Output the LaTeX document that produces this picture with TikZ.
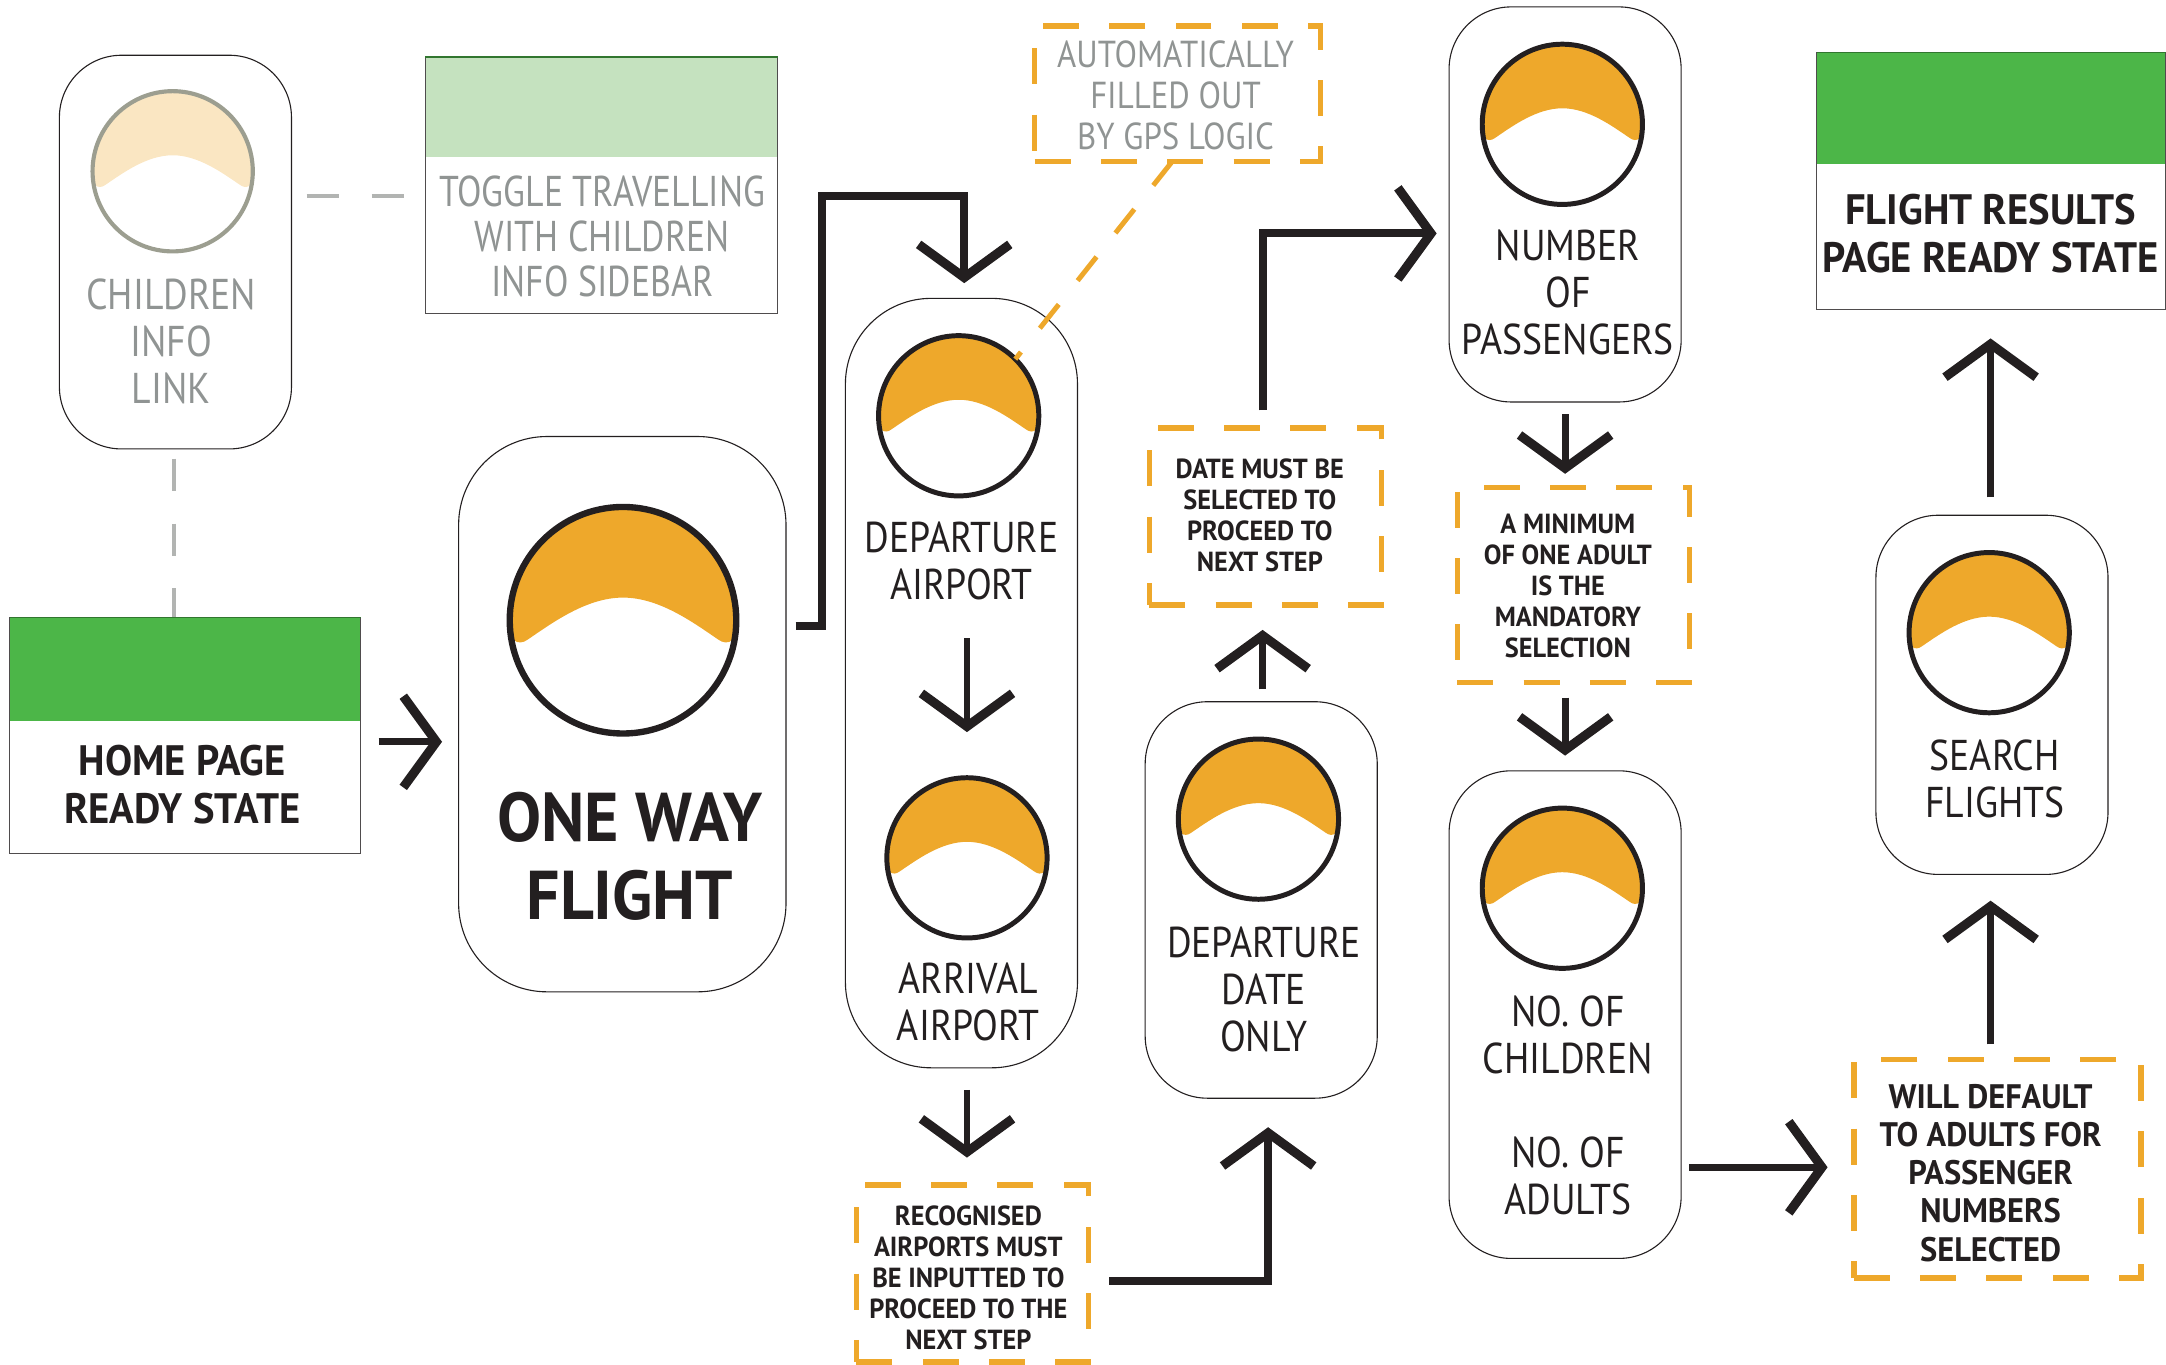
\documentclass[tikz,border=0pt]{standalone}
\usepackage{fontspec}
\setmainfont[FakeStretch=0.875,BoldFeatures={FakeStretch=0.955}]{PT Sans}
\newfontfamily\tighter[FakeStretch=0.83]{PT Sans}
\usetikzlibrary{arrows.meta,fit}
\definecolor{ink}{HTML}{231F20}
\definecolor{greytext}{HTML}{909493}
\definecolor{orangec}{HTML}{EEA82B}
\definecolor{palec}{HTML}{FAE6C2}
\definecolor{greenc}{HTML}{4CB648}
\definecolor{palegreen}{HTML}{C5E2BF}
\definecolor{dashgrey}{HTML}{B2B4B2}
\definecolor{ringgrey}{HTML}{9C9E90}
\tikzset{
  pill/.style={draw=ink,line width=0.4pt,inner sep=0pt,outer sep=0pt,rounded corners=#1},
  pill/.default=22.5pt,
  panel/.style={draw=ink!80,line width=0.4pt,inner sep=0pt,outer sep=0pt},
  note/.style={draw=orangec,line width=2pt,dash pattern=on 13pt off 11pt,inner sep=0pt,outer sep=0pt},
  reg/.style={inner sep=0pt,align=center,text=ink,font=\fontsize{15.6}{17}\selectfont},
  regg/.style={reg,text=greytext},
  boldbig/.style={inner sep=0pt,align=center,text=ink,font=\bfseries\fontsize{15.4}{17.4}\selectfont},
  huge1/.style={inner sep=0pt,align=center,text=ink,font=\bfseries\fontsize{25}{28}\selectfont},
  noteS/.style={inner sep=0pt,align=center,text=ink,font=\bfseries\fontsize{10}{11.2}\selectfont},
  noteM/.style={inner sep=0pt,align=center,text=ink,font=\bfseries\fontsize{12.3}{13.85}\selectfont},
  gpstext/.style={inner sep=0pt,align=center,text=greytext,font=\fontsize{13.6}{14.7}\selectfont},
  conn/.style={draw=ink,line width=2.5pt,-{Straight Barb[length=12pt,width=33pt,line width=3.3pt]}},
  elbow/.style={conn,line width=2.9pt,line join=miter},
  greydash/.style={draw=dashgrey,line width=1.5pt,dash pattern=on 11.75pt off 11.75pt},
  gpsdash/.style={draw=orangec,line width=1.8pt,dash pattern=on 11pt off 11pt},
  ring/.style={circle,draw=#1,line width=1.8pt,inner sep=0pt,outer sep=0pt},
  ring/.default=ink,
  topedge/.style={draw=greenc!65!black,line width=0.7pt}
}
% name, cx, cy, radius, fill, ring colour, ring width
\newcommand{\sunicon}[7]{%
  \begin{scope}[shift={(#2,#3)},x=#4*0.5pt,y=-#4*0.5pt]
    \begin{scope}
      \clip (0,0) circle[radius=1];
      \fill[#5] (-1.1,0.17) -- (-1.1,-1.1) -- (1.1,-1.1) -- (1.1,0.17) -- (0.97,0.17)
        .. controls (0.93,0.21) and (0.88,0.2) .. (0.84,0.17)
        .. controls (0.62,0.02) and (0.32,-0.2) .. (0,-0.2)
        .. controls (-0.32,-0.2) and (-0.62,0.02) .. (-0.84,0.17)
        .. controls (-0.88,0.2) and (-0.93,0.21) .. (-0.97,0.17) -- cycle;
    \end{scope}
  \end{scope}
  \node[ring=#6,line width=#7,minimum size=#4*1pt] (#1) at (#2,#3) {};
}
\begin{document}
\begin{tikzpicture}[x=0.5pt,y=-0.5pt]
\useasboundingbox (0,0) rectangle (1568,988.1);

% panels
\fill[palegreen] (308,41) rectangle (563,114);
\fill[greenc] (7,447) rectangle (261,522);
\fill[greenc] (1315,38) rectangle (1568,119);
\node[panel,fit={(308,41)(563,227)}] (toggle) {};
\node[panel,fit={(7,447)(261,618)}] (home) {};
\node[panel,fit={(1315,38)(1568,224)}] (results) {};
\draw[topedge] (toggle.north west) -- (toggle.north east);
\draw[topedge] (home.north west) -- (home.north east);
\draw[topedge] (results.north west) -- (results.north east);

% pills
\node[pill,fit={(43,40)(211,325)}] (child) {};
\node[pill=32pt,fit={(332,316)(569,718)}] (oneway) {};
\node[pill=31pt,fit={(612,216)(780,773)}] (airports) {};
\node[pill,fit={(829,508)(997,795)}] (date) {};
\node[pill,fit={(1049,5)(1217,291)}] (number) {};
\node[pill,fit={(1049,558)(1217,911)}] (kids) {};
\node[pill,fit={(1358,373)(1526,633)}] (search) {};

% suns
\sunicon{schild}{125}{124}{58}{palec}{ringgrey}{1.5pt}
\sunicon{soneway}{451}{449}{82}{orangec}{ink}{2.3pt}
\sunicon{sdep}{694}{301}{58}{orangec}{ink}{1.8pt}
\sunicon{sarr}{700}{621}{58}{orangec}{ink}{1.8pt}
\sunicon{sdate}{911}{593}{58}{orangec}{ink}{1.8pt}
\sunicon{snum}{1131}{90}{58}{orangec}{ink}{1.8pt}
\sunicon{skids}{1131}{643}{58}{orangec}{ink}{1.8pt}
\sunicon{ssearch}{1440}{458}{58}{orangec}{ink}{1.8pt}

% dashed notes
\node[note,fit={(749,19)(956,117)}] (gps) {};
\node[note,fit={(832,310)(1000,438)}] (datenote) {};
\node[note,fit={(1055,353)(1223,494)}] (minnote) {};
\node[note,fit={(620,858)(788,986)}] (airnote) {};
\node[note,fit={(1342,767)(1550,925)}] (willnote) {};

% labels
\node[regg] (lchild) at (124,247) {CHILDREN\\INFO\\LINK};
\node[regg,font=\tighter\fontsize{15.6}{16.3}\selectfont] (ltoggle) at (436,171) {TOGGLE TRAVELLING\\WITH CHILDREN\\INFO SIDEBAR};
\node[boldbig] (lhome) at (132,568) {HOME PAGE\\READY STATE};
\node[boldbig] (lresults) at (1441,169) {FLIGHT RESULTS\\PAGE READY STATE};
\node[huge1] (loneway) at (456,620) {ONE WAY\\FLIGHT};
\node[reg] (ldep) at (696,406) {DEPARTURE\\AIRPORT};
\node[reg] (larr) at (701,725) {ARRIVAL\\AIRPORT};
\node[reg] (ldate) at (915,716) {DEPARTURE\\DATE\\ONLY};
\node[reg] (lnum) at (1135,212) {NUMBER\\OF\\PASSENGERS};
\node[reg] (lkids) at (1135,800) {NO. OF\\CHILDREN\\[17pt]NO. OF\\ADULTS};
\node[reg] (lsearch) at (1444,564) {SEARCH\\FLIGHTS};
\node[gpstext] (lgps) at (851,69) {AUTOMATICALLY\\FILLED OUT\\BY GPS LOGIC};
\node[noteS] (ldn) at (912,373) {DATE MUST BE\\SELECTED TO\\PROCEED TO\\NEXT STEP};
\node[noteS] (lmn) at (1135,424) {A MINIMUM\\OF ONE ADULT\\IS THE\\MANDATORY\\SELECTION};
\node[noteS] (lan) at (701,925) {RECOGNISED\\AIRPORTS MUST\\BE INPUTTED TO\\PROCEED TO THE\\NEXT STEP};
\node[noteM] (lwn) at (1441,849) {WILL DEFAULT\\TO ADULTS FOR\\PASSENGER\\NUMBERS\\SELECTED};

% grey dashed links
\draw[greydash] ([shift={(11,-40.5)}]child.east) -- ([shift={(-15,8)}]toggle.west);
\draw[greydash] ([shift={(-1,7)}]child.south) -- ([shift={(-8,0)}]home.north);
% gps link
\draw[gpsdash] ([shift={(-4,0)}]gps.south) -- (sdep.45);

% connectors
\coordinate (inA) at (700,462);
\coordinate (inB) at (700,530);
\draw[conn] ([shift={(13,4.5)}]home.east) -- ([shift={(-12,20)}]oneway.west);
\draw[elbow] ([shift={(7,-64)}]oneway.east) -- (595,453) -- (595,142) -- (698,142) -- ([shift={(2,-11)}]airports.north);
\draw[conn] (inA) -- (inB);
\draw[conn] ([shift={(4,16)}]airports.south) -- ([shift={(-4,-20)}]airnote.north);
\draw[elbow] ([shift={(15,5)}]airnote.east) -- (918,927) -- ([shift={(5,21)}]date.south);
\draw[conn] ([shift={(1,-9)}]date.north) -- ([shift={(-2,18)}]datenote.south);
\draw[elbow] ([shift={(-2,-13)}]datenote.north) -- (914,169) -- ([shift={(-9,21)}]number.west);
\draw[conn] ([shift={(0,9)}]number.south) -- ([shift={(-6,-10)}]minnote.north);
\draw[conn] ([shift={(-6,11)}]minnote.south) -- ([shift={(0,-11)}]kids.north);
\draw[conn] ([shift={(6,110.5)}]kids.east) -- ([shift={(-19,-1)}]willnote.west);
\draw[conn] ([shift={(-5,-11)}]willnote.north) -- ([shift={(-1,19)}]search.south);
\draw[conn] ([shift={(-1,-13)}]search.north) -- ([shift={(-0.5,21)}]results.south);
\end{tikzpicture}
\end{document}
